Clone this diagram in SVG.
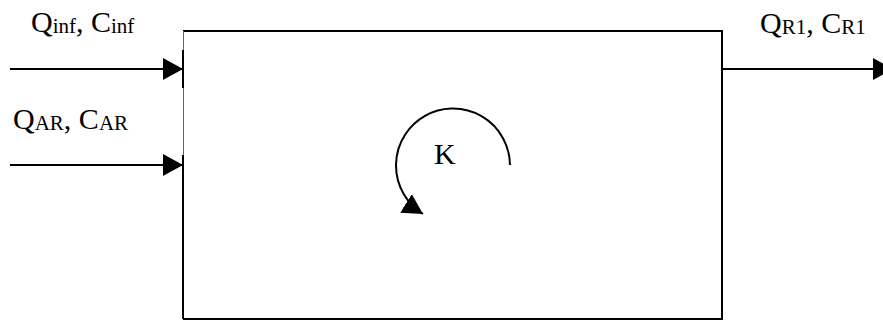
<svg xmlns="http://www.w3.org/2000/svg" width="883" height="320" viewBox="0 0 883 320">
<style>
.t{font-family:"Liberation Serif","Times New Roman",serif;font-size:30px;fill:#000}
.s{font-size:21px}
.ln{stroke:#000;stroke-width:2;fill:none}
</style>
<defs>
<marker id="ah" markerWidth="22" markerHeight="22" refX="20" refY="11" orient="auto" markerUnits="userSpaceOnUse">
<path d="M0,0 L20,11 L0,22 Z" fill="#000"/>
</marker>
</defs>
<rect width="883" height="320" fill="#fff"/>
<g id="reactor">
<path class="ln" d="M183,31 H722 V319 H183"/>
<line x1="183.5" y1="31" x2="183.5" y2="319" stroke="#666" stroke-width="1"/>
<line x1="183" y1="50" x2="183" y2="88" stroke="#000" stroke-width="2"/>
<line x1="183" y1="155" x2="183" y2="319" stroke="#000" stroke-width="2"/>
</g>
<g id="rotation">
<path class="ln" d="M510,165 A57,57 0 1 0 423,214" marker-end="url(#ah)"/>
<text class="t" x="434" y="164">K</text>
</g>
<g id="labels">
<text class="t" x="31" y="32">Q<tspan class="s" dy="1">inf</tspan><tspan dy="-1">, C</tspan><tspan class="s" dy="1">inf</tspan></text>
<text class="t" x="13" y="129">Q<tspan class="s" dy="1">AR</tspan><tspan dy="-1">, C</tspan><tspan class="s" dy="1">AR</tspan></text>
<text class="t" x="760" y="33">Q<tspan class="s" dy="1">R1</tspan><tspan dy="-1">, C</tspan><tspan class="s" dy="1">R1</tspan></text>
</g>
<g id="connectors">
<line class="ln" x1="10" y1="69" x2="183" y2="69" marker-end="url(#ah)"/>
<line class="ln" x1="10" y1="165" x2="183" y2="165" marker-end="url(#ah)"/>
<line class="ln" x1="722" y1="69" x2="893" y2="69" marker-end="url(#ah)"/>
</g>
</svg>
